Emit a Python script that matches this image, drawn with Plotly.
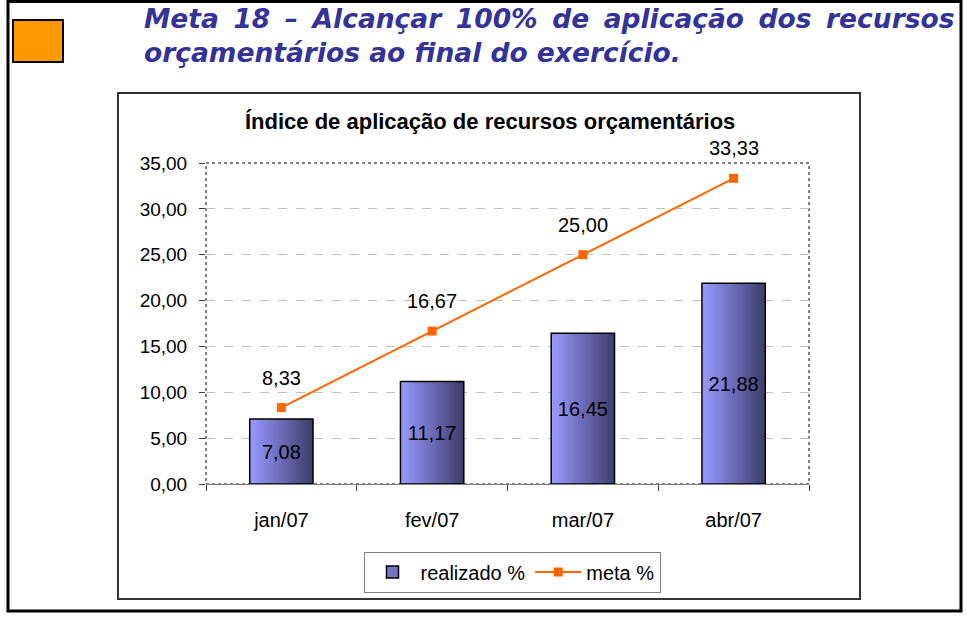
import plotly.graph_objects as go

# ---- data ----
categories = ["jan/07", "fev/07", "mar/07", "abr/07"]
realizado = [7.08, 11.17, 16.45, 21.88]
meta = [8.33, 16.67, 25.00, 33.33]
y_ticks = [0, 5, 10, 15, 20, 25, 30, 35]

header_line1 = "Meta 18 – Alcançar 100% de aplicação dos recursos"
header_line2 = "orçamentários ao final do exercício."
chart_title = "Índice de aplicação de recursos orçamentários"

# ---- geometry helpers (pixel -> paper) ----
W_FIG, H_FIG = 967, 620
L, R, T, B = 206, 809, 163, 484
PW, PH = R - L, B - T


def px(x):
    return (x - L) / PW


def py(y):
    return (B - y) / PH


FONT = "Liberation Sans, Arial, sans-serif"
HFONT = "DejaVu Sans"

fig = go.Figure()

# gradient bars built from thin slices
N = 30
BAR_W = 0.42
c0 = (153, 153, 255)
c1 = (62, 62, 110)
for i in range(N):
    t = i / (N - 1)
    col = "rgb(%d,%d,%d)" % tuple(round(a + (b - a) * t) for a, b in zip(c0, c1))
    fig.add_trace(go.Bar(
        x=categories, y=realizado,
        width=BAR_W / N * (1.6 if i < N - 1 else 1.0),
        offset=-BAR_W / 2 + i * BAR_W / N,
        marker=dict(color=col, line=dict(width=0)),
        showlegend=False, hoverinfo="skip",
    ))

# outline + labels
fig.add_trace(go.Bar(
    x=categories, y=realizado, width=BAR_W, offset=-BAR_W / 2,
    marker=dict(color="rgba(0,0,0,0)", line=dict(color="black", width=1.5)),
    texttemplate="%{y:.2f}", textposition="inside", insidetextanchor="middle",
    textangle=0, constraintext="none",
    textfont=dict(family=FONT, size=20, color="black"),
    showlegend=False,
))

# legend entry for bars
fig.add_trace(go.Bar(
    x=categories, y=[None] * len(categories), name="realizado %",
    marker=dict(color="#7474C8", line=dict(color="black", width=1.5)),
))

fig.add_trace(go.Scatter(
    x=categories, y=meta, name="meta %", mode="lines+markers",
    line=dict(color="#FF6600", width=2),
    marker=dict(symbol="square", size=9, color="#FF6600"),
))

annotations = []
for c, v in zip(categories, meta):
    annotations.append(dict(
        x=c, y=v, xref="x", yref="y", text=f"{v:.2f}".replace(".", ","),
        showarrow=False, yshift=30, yanchor="middle",
        font=dict(family=FONT, size=20, color="black"),
    ))

hfont = dict(family=HFONT, size=26.5, color="#333399", weight="bold", style="italic")
annotations += [
    dict(x=px(142), y=py(18), xref="paper", yref="paper", xanchor="left", yanchor="middle",
         text=header_line1.replace(" ", " \u2009"), showarrow=False, font=hfont),
    dict(x=px(142), y=py(52), xref="paper", yref="paper", xanchor="left", yanchor="middle",
         text=header_line2, showarrow=False, font=hfont),
    dict(x=px(490), y=py(121), xref="paper", yref="paper", xanchor="center", yanchor="middle",
         text=chart_title, showarrow=False,
         font=dict(family=FONT, size=22, color="black", weight="bold")),
]

shapes = [
    # outer frame
    dict(type="rect", xref="paper", yref="paper", x0=px(8), x1=px(961), y0=py(611), y1=py(1.5),
         line=dict(color="black", width=3)),
    # inner chart box
    dict(type="rect", xref="paper", yref="paper", x0=px(118), x1=px(860), y0=py(599), y1=py(93),
         line=dict(color="#333333", width=2)),
    # orange square
    dict(type="rect", xref="paper", yref="paper", x0=px(13), x1=px(63), y0=py(62), y1=py(20),
         fillcolor="#FF9900", line=dict(color="black", width=2)),
    # plot area border
    dict(type="rect", xref="paper", yref="paper", x0=0, x1=1, y0=0, y1=1,
         line=dict(color="#808080", width=2, dash="3px,3px"), layer="below"),
]

fig.update_layout(
    width=W_FIG, height=H_FIG,
    margin=dict(l=L, r=W_FIG - R, t=T, b=H_FIG - B, pad=0),
    paper_bgcolor="white", plot_bgcolor="white",
    barmode="overlay", separators=", ",
    font=dict(family=FONT, size=20, color="black"),
    showlegend=True,
    legend=dict(orientation="h", x=px(512), xanchor="center", y=py(572), yanchor="middle",
                bordercolor="#808080", borderwidth=1, bgcolor="white",
                font=dict(family=FONT, size=20, color="black"),
                traceorder="normal", itemwidth=46),
    annotations=annotations, shapes=shapes,
)

fig.update_xaxes(
    type="category", showline=True, linecolor="#808080", linewidth=1,
    ticks="outside", tickson="boundaries", ticklen=6, tickcolor="#404040",
    showgrid=False, ticklabelstandoff=18,
    tickfont=dict(family=FONT, size=20, color="black"),
)
fig.update_yaxes(
    range=[0, 35], tickvals=y_ticks, tickformat=".2f",
    showgrid=True, gridcolor="#C0C0C0", griddash="dash", gridwidth=1,
    ticks="outside", ticklen=6, tickcolor="#404040", showline=False,
    zeroline=False, ticklabelstandoff=8,
    tickfont=dict(family=FONT, size=19, color="black"),
)

fig.write_html("out.html", config={"displayModeBar": False},
               post_script="document.body.style.margin='0';")
